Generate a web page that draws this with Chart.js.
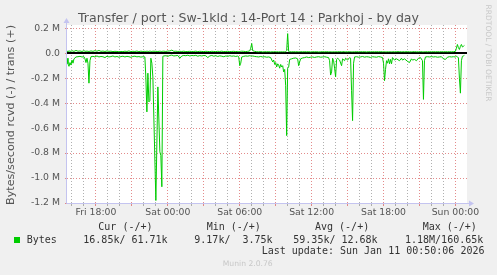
<!DOCTYPE html>
<html>
<head>
<meta charset="utf-8">
<script src="https://cdn.jsdelivr.net/npm/chart.js@4/dist/chart.umd.min.js"></script>
<style>
  html, body { margin: 0; padding: 0; background: #f0f0f0; }
  canvas { display: block; }
</style>
</head>
<body>
<canvas id="c" width="497" height="275"></canvas>
<script>
// time of each sample, minutes since Fri 00:00
const times = [
  935, 940, 945, 950, 955, 960, 965, 970, 980, 990, 1000, 1010, 1020, 1025, 1030, 1035, 1040, 1045, 1050, 1055, 1065, 1075,
  1085, 1095, 1105, 1115, 1125, 1135, 1145, 1155, 1165, 1175, 1185, 1195, 1205, 1215, 1225, 1235, 1245, 1255, 1265, 1275, 1285, 1295, 1305, 1315, 1325,
  1330, 1335, 1340, 1345, 1350, 1355, 1360, 1365, 1380, 1390, 1400, 1405, 1410, 1415,
  1420, 1430, 1440, 1450, 1460, 1470, 1480, 1490, 1500, 1510, 1520, 1530, 1540, 1550, 1560, 1570, 1580, 1590, 1600, 1610,
  1620, 1630, 1640, 1650, 1660, 1670, 1680, 1690, 1700, 1710, 1720, 1730, 1740, 1750, 1760, 1770, 1780, 1790,
  1795, 1800, 1805, 1810, 1820, 1830, 1840, 1850, 1855, 1860, 1865,
  1875, 1885, 1895, 1905, 1915, 1925, 1935, 1945, 1955,
  1965, 1970, 1975, 1980, 1985, 1990, 1995, 2000, 2005, 2010, 2015, 2020, 2025, 2030, 2035, 2040, 2045, 2050,
  2060, 2070, 2080, 2090, 2095, 2100, 2105,
  2115, 2125, 2135, 2145, 2155, 2165, 2175, 2185, 2195, 2205, 2215, 2225, 2235, 2245,
  2250, 2255, 2260, 2265, 2270, 2275, 2280, 2285, 2290, 2300, 2310, 2315, 2325, 2330, 2340, 2350, 2355, 2360, 2365, 2370, 2375,
  2385, 2395, 2405, 2415, 2425, 2435, 2445, 2455, 2465, 2475, 2485, 2495, 2505, 2515,
  2520, 2525, 2530, 2535, 2540, 2545, 2550, 2555, 2560, 2565, 2575, 2585, 2600, 2610, 2615, 2625, 2640, 2650, 2660, 2665,
  2675, 2685, 2695, 2705, 2715, 2720, 2725,
  2730, 2740, 2750, 2760, 2770, 2780, 2790, 2800, 2810, 2820, 2830, 2840, 2850, 2860, 2870, 2880,
  2885, 2890, 2895, 2900, 2905, 2910, 2915, 2920, 2925
];

// received bytes/s in thousands (graphed below zero)
const rcvd = [
  40, 85, 105, 75, 95, 55, 80, 45, 30, 28, 25, 30, 28, 45, 75, 40, 80, 240, 60, 28, 25, 30,
  22, 30, 26, 28, 35, 24, 30, 27, 22, 30, 26, 32, 27, 24, 30, 25, 28, 33, 26, 24, 29, 27, 31, 28, 30,
  200, 470, 160, 390, 380, 40, 80, 190, 1180, 270, 790, 820, 1070, 25,
  22, 20, 25, 18, 15, 22, 20, 18, 40, 22, 18, 20, 16, 22, 18, 20, 17, 24, 19, 22,
  18, 20, 35, 22, 18, 24, 20, 26, 21, 24, 28, 22, 25, 20, 24, 22, 26, 22,
  30, 100, 80, 30, 25, 22, 24, 20, 22, 25, 22,
  26, 28, 30, 26, 30, 28, 32, 30, 35,
  70, 55, 90, 75, 110, 85, 95, 120, 90, 110, 100, 150, 130, 260, 660, 120, 110, 50,
  45, 40, 38, 45, 100, 70, 45,
  38, 35, 30, 35, 32, 30, 34, 30, 28, 32, 30, 28, 32, 35,
  60, 175, 150, 40, 60, 120, 190, 50, 40, 55, 100, 45, 60, 40, 55, 35, 40, 300, 540, 80, 30,
  28, 32, 30, 26, 32, 28, 30, 34, 28, 30, 32, 27, 30, 35,
  80, 220, 130, 60, 80, 45, 85, 50, 85, 35, 55, 45, 60, 40, 55, 45, 65, 75, 45, 55,
  50, 60, 40, 35, 60, 370, 60,
  30, 28, 30, 27, 30, 28, 32, 30, 28, 45, 50, 32, 28, 30, 28, 30,
  25, 30, 35, 200, 320, 60, 25, 22, 17
];

// transmitted bytes/s in thousands
const trans = [
  16, 14, 18, 16, 15, 20, 17, 15, 22, 16, 18, 14, 20, 16, 15, 17, 15, 14, 16, 18, 15, 20,
  16, 22, 15, 17, 14, 18, 15, 16, 13, 15, 14, 12, 14, 13, 16, 14, 18, 13, 15, 14, 17, 13, 16, 14, 15,
  14, 16, 15, 14, 17, 15, 14, 16, 15, 14, 16, 15, 14, 16,
  16, 14, 17, 18, 25, 15, 16, 14, 15, 14, 16, 13, 14, 15, 13, 14, 16, 13, 15, 14,
  13, 15, 14, 13, 15, 14, 13, 15, 14, 16, 13, 14, 15, 13, 14, 15, 13, 14,
  13, 14, 15, 16, 15, 13, 15, 18, 40, 78, 20,
  15, 12, 11, 13, 10, 12, 11, 12, 10,
  12, 11, 13, 12, 11, 12, 10, 12, 11, 12, 11, 12, 11, 12, 20, 157, 14, 12,
  11, 12, 11, 12, 11, 12, 12,
  11, 12, 11, 12, 10, 12, 11, 12, 10, 11, 12, 11, 12, 11,
  12, 12, 11, 11, 12, 11, 12, 12, 11, 12, 11, 12, 12, 11, 11, 12, 12, 11, 11, 12, 11,
  12, 11, 12, 11, 12, 10, 12, 11, 12, 11, 12, 11, 12, 11,
  12, 12, 11, 11, 12, 11, 12, 12, 11, 12, 11, 12, 12, 11, 12, 11, 12, 11, 11, 12,
  12, 11, 11, 12, 11, 11, 12,
  12, 11, 12, 11, 12, 11, 12, 11, 12, 11, 12, 11, 12, 11, 12, 15,
  40, 70, 45, 30, 55, 70, 50, 55, 62
];

const xTickValues = [];
for (let m = 960; m <= 2880; m += 60) xTickValues.push(m);
const yTickValues = [];
for (let v = -1200; v <= 200; v += 100) yTickValues.push(v);

const dayNames = ['Fri', 'Sat', 'Sun'];
const legendHeads = ['Cur (-/+)', 'Min (-/+)', 'Avg (-/+)', 'Max (-/+)'];
const legendValues = ['16.85k/ 61.71k', '9.17k/  3.75k', '59.35k/ 12.68k', '1.18M/160.65k'];
const titleText = 'Transfer / port : Sw-1kld : 14-Port 14 : Parkhoj - by day';
const yTitle = 'Bytes/second rcvd (-) / trans (+)';

const GREEN = '#00cc00';
const MAJOR = 'rgba(220,110,110,0.8)';
const MINOR = 'rgba(150,150,150,0.75)';

// set a font size so the string spans the given width
function fitText(ctx, text, family, width) {
  ctx.font = '20px ' + family;
  const size = 20 * width / ctx.measureText(text).width;
  ctx.font = size.toFixed(2) + 'px ' + family;
}

const munin = {
  id: 'munin',
  beforeDraw(chart) {
    const { ctx, chartArea: a } = chart;
    ctx.save();
    ctx.fillStyle = '#ffffff';
    ctx.fillRect(a.left, a.top, a.right - a.left, a.bottom - a.top);
    ctx.restore();
  },
  beforeDatasetsDraw(chart) {
    const { ctx, chartArea: a, scales } = chart;
    const y0 = Math.round(scales.y.getPixelForValue(0));
    ctx.save();
    ctx.strokeStyle = '#000';
    ctx.lineWidth = 2;
    ctx.beginPath();
    ctx.moveTo(a.left, y0);
    ctx.lineTo(a.right, y0);
    ctx.stroke();
    ctx.restore();
  },
  afterDraw(chart) {
    const { ctx, chartArea: a } = chart;
    ctx.save();
    // axes with arrows
    ctx.strokeStyle = '#c4c4f0';
    ctx.fillStyle = '#c4c4f0';
    ctx.lineWidth = 1;
    const lx = a.left - 0.5, by = a.bottom + 0.5;
    ctx.beginPath();
    ctx.moveTo(lx, by); ctx.lineTo(lx, a.top - 3);
    ctx.moveTo(lx, by); ctx.lineTo(a.right + 3, by);
    ctx.stroke();
    ctx.beginPath();
    ctx.moveTo(lx - 3, a.top - 2); ctx.lineTo(lx + 3, a.top - 2); ctx.lineTo(lx, a.top - 7); ctx.closePath();
    ctx.fill();
    ctx.beginPath();
    ctx.moveTo(a.right + 2, by - 3); ctx.lineTo(a.right + 2, by + 3); ctx.lineTo(a.right + 7, by); ctx.closePath();
    ctx.fill();

    // title
    ctx.fillStyle = '#555';
    ctx.textAlign = 'center';
    ctx.textBaseline = 'middle';
    fitText(ctx, titleText, '"DejaVu Sans"', 341);
    ctx.fillText(titleText, 248.5, 18.5);

    // vertical axis title
    ctx.save();
    ctx.translate(11.5, 115);
    ctx.rotate(-Math.PI / 2);
    fitText(ctx, yTitle, '"DejaVu Sans"', 180);
    ctx.fillText(yTitle, 0, 0);
    ctx.restore();

    // rrdtool credit
    ctx.save();
    ctx.translate(488, 53);
    ctx.rotate(Math.PI / 2);
    ctx.fillStyle = '#c8c8c8';
    fitText(ctx, 'RRDTOOL / TOBI OETIKER', '"DejaVu Sans"', 97);
    ctx.fillText('RRDTOOL / TOBI OETIKER', 0, 0);
    ctx.restore();

    // legend
    ctx.fillStyle = '#333';
    ctx.textAlign = 'left';
    ctx.font = '10px "DejaVu Sans Mono"';
    const headX = [98.3, 206.7, 315, 422.7];
    const valX = [83.3, 194.3, 293.3, 405];
    legendHeads.forEach((h, i) => ctx.fillText(h, headX[i], 227.5));
    legendValues.forEach((v, i) => ctx.fillText(v, valX[i], 240));
    ctx.fillText('Bytes', 26.7, 240);
    ctx.fillText('Last update: Sun Jan 11 00:50:06 2026', 261.7, 251.8);
    ctx.fillStyle = GREEN;
    ctx.fillRect(14, 237, 6, 6);

    ctx.fillStyle = '#c8c8c8';
    ctx.textAlign = 'center';
    fitText(ctx, 'Munin 2.0.76', '"DejaVu Sans"', 50);
    ctx.fillText('Munin 2.0.76', 247.7, 264);
    ctx.restore();
  }
};

new Chart(document.getElementById('c'), {
  type: 'line',
  data: {
    datasets: [
      {
        label: 'rcvd',
        data: times.map((t, i) => ({ x: t, y: -rcvd[i] })),
        borderColor: GREEN,
        borderWidth: 1,
        pointRadius: 0,
        tension: 0
      },
      {
        label: 'Bytes',
        data: times.map((t, i) => ({ x: t, y: trans[i] })),
        borderColor: GREEN,
        borderWidth: 1,
        pointRadius: 0,
        tension: 0
      }
    ]
  },
  options: {
    responsive: false,
    animation: false,
    devicePixelRatio: 1,
    layout: { padding: { top: 25, right: 30, left: 0, bottom: 0 } },
    plugins: { legend: { display: false }, tooltip: { enabled: false } },
    scales: {
      x: {
        type: 'linear',
        min: 935,
        max: 2938,
        afterBuildTicks: s => { s.ticks = xTickValues.map(v => ({ value: v })); },
        afterFit: s => { s.height = 72; },
        grid: {
          color: c => (c.tick && c.tick.value % 180 === 0) ? MAJOR : MINOR,
          tickLength: 3
        },
        border: { display: false, dash: [1, 2] },
        ticks: {
          autoSkip: false,
          maxRotation: 0,
          padding: 1,
          color: '#555',
          font: { family: '"DejaVu Sans"', size: 9.3 },
          callback: v => {
            if (v % 360 !== 0) return '';
            const h = (v % 1440) / 60;
            return dayNames[Math.floor(v / 1440)] + ' ' + String(h).padStart(2, '0') + ':00';
          }
        }
      },
      y: {
        min: -1200,
        max: 226,
        afterBuildTicks: s => { s.ticks = yTickValues.map(v => ({ value: v })); },
        afterFit: s => { s.width = 67; },
        grid: {
          color: c => (c.tick && c.tick.value % 200 === 0) ? MAJOR : MINOR,
          tickLength: 2
        },
        border: { display: false, dash: [1, 2] },
        ticks: {
          padding: 5,
          color: '#555',
          font: { family: '"DejaVu Sans"', size: 9.3 },
          callback: v => {
            if (v % 200 !== 0) return '';
            return v === 0 ? '0.0' : (v / 1000).toFixed(1) + ' M';
          }
        }
      }
    }
  },
  plugins: [munin]
});
</script>
</body>
</html>
